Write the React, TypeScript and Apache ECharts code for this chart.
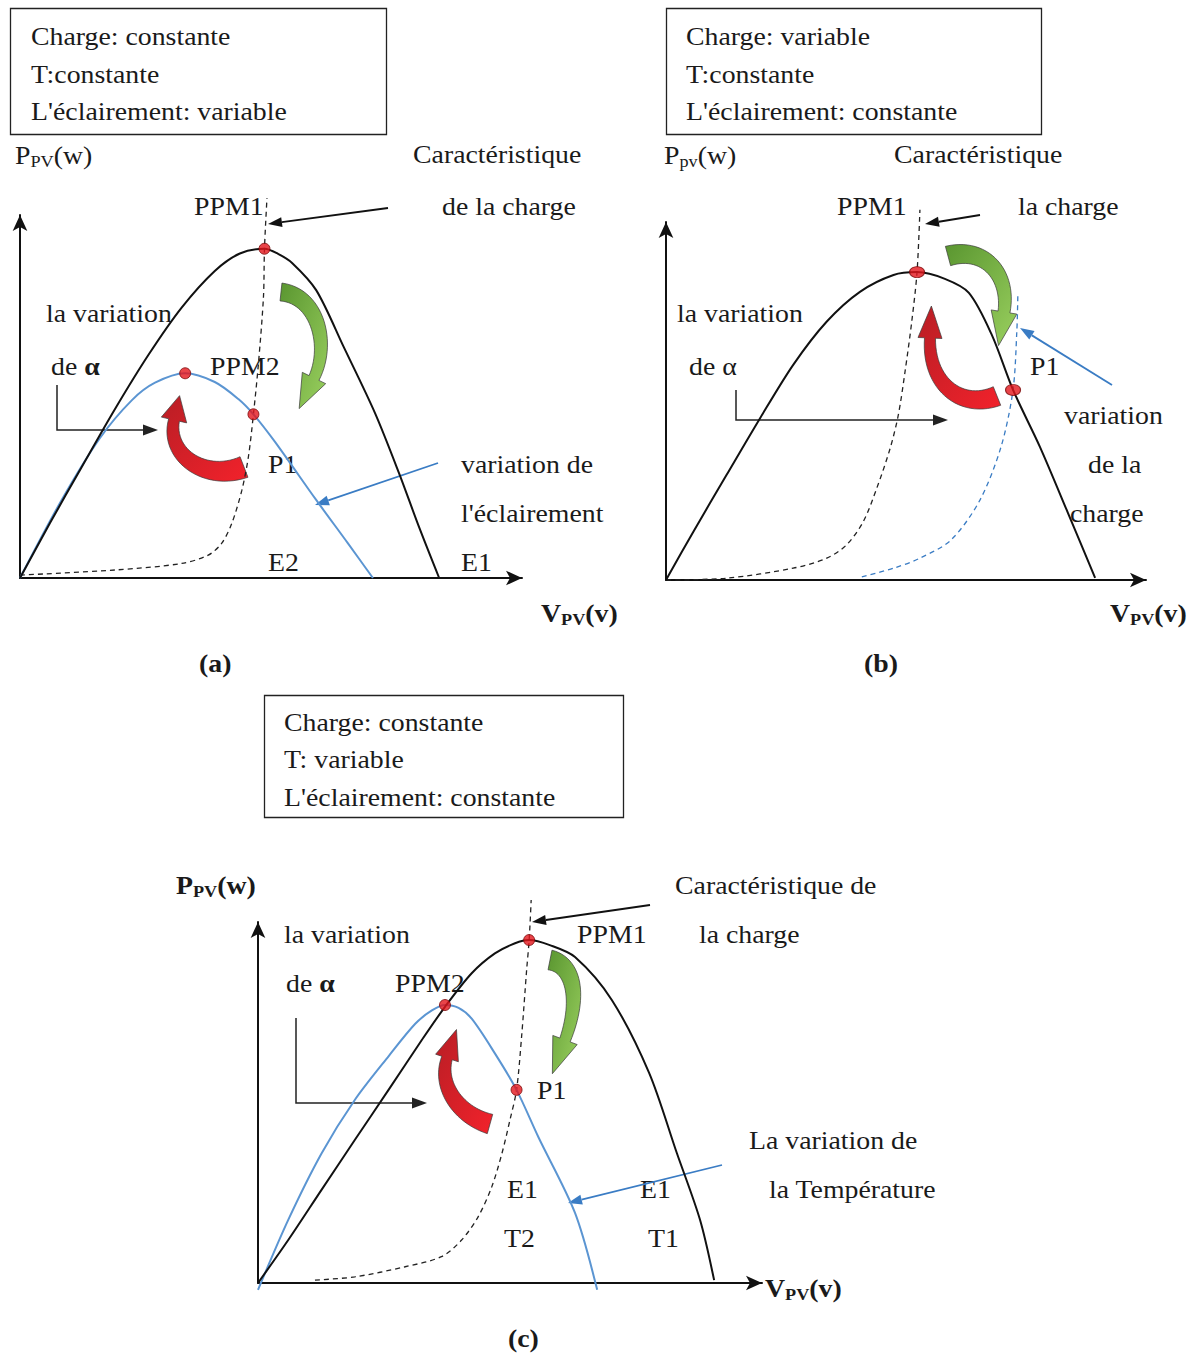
import React, { useEffect, useRef } from "react";
import * as echarts from "echarts";

// ---------- Panel (a): irradiance varies (normalised units 0..100) ----------
const aCurveE1: number[][] = [
  [0, 0], [6.0, 15.2], [12.3, 30.6], [18.9, 46.5], [25.6, 61.5], [32.2, 74.5],
  [38.8, 84.6], [43.8, 89.4], [48.7, 90.7], [51.4, 89.3], [54.2, 86.8],
  [59.0, 79.3], [64.5, 63.6], [70.7, 45.5], [75.5, 28.9], [79.5, 14.0], [83.5, 0],
];
const aCurveE2: number[][] = [
  [0, 0], [8.3, 21.5], [15.9, 38.5], [22.3, 49.0], [26.9, 53.8], [32.9, 56.4],
  [38.8, 54.0], [43.5, 49.3], [46.5, 45.1], [50.8, 37.5], [59.0, 21.5],
  [65.3, 9.6], [70.3, 0],
];
const aLoad: number[][] = [
  [0, 0.8], [18.9, 2.2], [32.2, 4.0], [37.5, 6.3], [40.2, 9.6], [42.2, 15.1],
  [44.2, 24.2], [45.5, 33.4], [46.5, 45.1], [47.5, 59.1], [48.5, 77.5],
  [48.7, 90.7], [49.2, 104.7],
];
const aPoints: number[][] = [[48.7, 90.7], [32.9, 56.4], [46.5, 45.1]];

// ---------- Panel (b): load varies ----------
const bCurve: number[][] = [
  [0, 0], [5.7, 13.5], [12.6, 29.3], [19.6, 45.2], [26.5, 60.1], [33.5, 72.2],
  [40.4, 80.5], [47.4, 85.2], [52.3, 86.0], [58.1, 84.1], [63.1, 80.2],
  [67.9, 68.4], [72.3, 53.1], [77.9, 37.2], [83.75, 18.7], [89.4, 0.6],
];
const bLoad1: number[][] = [
  [0.1, 0], [12.6, 0.5], [26.5, 3.3], [33.5, 6.1], [37.6, 9.8], [41.1, 16.3],
  [43.9, 25.6], [46.7, 36.8], [48.4, 46.1], [49.8, 58.2], [51.2, 72.2],
  [52.3, 86.0], [52.9, 103.4],
];
const bLoad2: number[][] = [
  [40.8, 0.9], [47.4, 3.3], [52.9, 6.1], [59.4, 11.2], [65.4, 22.3],
  [69.8, 37.2], [72.3, 53.1], [73.1, 69.8], [73.3, 79.6],
];
const bPoints: number[][] = [[52.3, 86.0], [72.3, 53.1]];

// ---------- Panel (c): temperature varies ----------
const cCurveT1: number[][] = [
  [0, 0], [6.0, 11.9], [12.6, 25.8], [19.2, 39.6], [25.9, 53.5], [32.5, 67.3],
  [37.1, 76.5], [42.4, 85.8], [47.0, 91.3], [51.0, 94.1], [53.8, 95.0],
  [57.9, 93.6], [62.9, 90.3], [70.2, 78.4], [77.6, 58.2], [83.1, 36.0],
  [87.7, 17.5], [90.5, 0.8],
];
const cCurveT2: number[][] = [
  [0, -1.9], [6.0, 17.5], [12.6, 35.9], [19.2, 50.7], [25.9, 62.8], [31.2, 71.8],
  [34.5, 75.5], [37.1, 77.0], [39.8, 76.2], [42.4, 73.2], [47.0, 63.6],
  [51.3, 53.5], [55.6, 40.5], [62.9, 19.4], [67.3, -1.9],
];
const cLoad: number[][] = [
  [11.3, 0.8], [19.2, 1.7], [29.2, 4.5], [36.4, 7.3], [40.4, 11.9], [43.7, 18.4],
  [46.4, 26.7], [48.4, 35.9], [50.0, 45.2], [51.3, 53.5], [52.3, 68.2],
  [53.3, 86.7], [53.8, 95.0], [54.2, 106.1],
];
const cPoints: number[][] = [[53.8, 95.0], [37.1, 77.0], [51.3, 53.5]];

const FONT = '"Liberation Serif", "Times New Roman", serif';
const INK = "#1a1a1a";
const BLUE = "#5b95d2";
const ARROW_BLUE = "#3a7cc4";

type Pt = [number, number];

function txt(x: number, y: number, text: string, extra: any = {}) {
  return {
    type: "text",
    x,
    y,
    scaleX: 1.07,
    silent: true,
    style: {
      text,
      fontFamily: FONT,
      fontSize: 26,
      fill: INK,
      align: "left",
      verticalAlign: "middle",
      ...extra,
    },
  };
}

function subLabel(x: number, y: number, main: string, sub: string, tail: string, bold: boolean) {
  return txt(x, y, `${main}{s|${sub}}${tail}`, {
    fontWeight: bold ? "bold" : "normal",
    rich: {
      s: {
        fontFamily: FONT,
        fontSize: 17,
        fontWeight: bold ? "bold" : "normal",
        fill: INK,
        padding: [12, 0, 0, 0],
      },
    },
  });
}

function alphaLabel(x: number, y: number, bold: boolean) {
  return txt(x, y, "de {a|α}", {
    rich: {
      a: { fontFamily: FONT, fontSize: 26, fontWeight: bold ? "bold" : "normal", fill: INK },
    },
  });
}

function box(x: number, y: number, w: number, h: number) {
  return {
    type: "rect",
    silent: true,
    shape: { x, y, width: w, height: h },
    style: { fill: "none", stroke: "#222", lineWidth: 1.3 },
  };
}

function arrowLine(x1: number, y1: number, x2: number, y2: number, color: string, lw = 1.8, len = 14, w = 10) {
  const dx = x2 - x1, dy = y2 - y1;
  const L = Math.hypot(dx, dy);
  const ux = dx / L, uy = dy / L;
  const bx = x2 - ux * len, by = y2 - uy * len;
  const px = -uy, py = ux;
  return [
    { type: "line", silent: true, shape: { x1, y1, x2: bx, y2: by }, style: { stroke: color, lineWidth: lw } },
    {
      type: "polygon",
      silent: true,
      shape: { points: [[x2, y2], [bx + (px * w) / 2, by + (py * w) / 2], [bx - (px * w) / 2, by - (py * w) / 2]] },
      style: { fill: color },
    },
  ];
}

function elbowArrow(x0: number, y0: number, y1: number, x2: number) {
  const len = 15, w = 11;
  return [
    {
      type: "polyline",
      silent: true,
      shape: { points: [[x0, y0], [x0, y1], [x2 - len, y1]] },
      style: { stroke: "#222", lineWidth: 1.5, fill: "none" },
    },
    {
      type: "polygon",
      silent: true,
      shape: { points: [[x2, y1], [x2 - len, y1 - w / 2], [x2 - len, y1 + w / 2]] },
      style: { fill: "#222" },
    },
  ];
}

function blockArrow(p0: Pt, p1: Pt, p2: Pt, p3: Pt, w0: number, w1: number, headW: number, headLen: number, c1: string, c2: string) {
  const n = 28;
  const left: Pt[] = [];
  const right: Pt[] = [];
  let lastT: Pt = [0, 1];
  for (let i = 0; i <= n; i++) {
    const t = i / n, u = 1 - t;
    const x = u * u * u * p0[0] + 3 * u * u * t * p1[0] + 3 * u * t * t * p2[0] + t * t * t * p3[0];
    const y = u * u * u * p0[1] + 3 * u * u * t * p1[1] + 3 * u * t * t * p2[1] + t * t * t * p3[1];
    let dx = 3 * u * u * (p1[0] - p0[0]) + 6 * u * t * (p2[0] - p1[0]) + 3 * t * t * (p3[0] - p2[0]);
    let dy = 3 * u * u * (p1[1] - p0[1]) + 6 * u * t * (p2[1] - p1[1]) + 3 * t * t * (p3[1] - p2[1]);
    const L = Math.hypot(dx, dy) || 1;
    dx /= L; dy /= L;
    lastT = [dx, dy];
    const w = w0 + (w1 - w0) * t;
    left.push([x - (dy * w) / 2, y + (dx * w) / 2]);
    right.push([x + (dy * w) / 2, y - (dx * w) / 2]);
  }
  const [tx, ty] = lastT;
  const tip: Pt = [p3[0] + tx * headLen, p3[1] + ty * headLen];
  const hl: Pt = [p3[0] - (ty * headW) / 2, p3[1] + (tx * headW) / 2];
  const hr: Pt = [p3[0] + (ty * headW) / 2, p3[1] - (tx * headW) / 2];
  const pts = [...left, hl, tip, hr, ...right.reverse()];
  return {
    type: "polygon",
    silent: true,
    shape: { points: pts },
    style: {
      fill: {
        type: "linear",
        x: 0, y: 0, x2: 1, y2: 1,
        colorStops: [{ offset: 0, color: c1 }, { offset: 1, color: c2 }],
      },
      stroke: "#3a3a3a",
      lineWidth: 0.7,
    },
  };
}

const RED1 = "#f2222b", RED2 = "#b81e25";
const GREEN1 = "#5a9630", GREEN2 = "#9ad05f";

function axisPair(gi: number) {
  const axisLine = {
    show: true,
    symbol: ["none", "arrow"],
    symbolSize: [11, 16],
    lineStyle: { color: "#111", width: 2 },
  };
  const common = {
    gridIndex: gi,
    type: "value",
    min: 0,
    max: 100,
    axisLine,
    axisTick: { show: false },
    axisLabel: { show: false },
    splitLine: { show: false },
  };
  return { x: { ...common }, y: { ...common } };
}

function lineSeries(gi: number, data: number[][], color: string, dashed: boolean, width: number, smooth = 0.3) {
  return {
    type: "line",
    xAxisIndex: gi,
    yAxisIndex: gi,
    data,
    smooth,
    showSymbol: false,
    symbol: "none",
    clip: false,
    silent: true,
    lineStyle: { color, width, type: dashed ? [5, 4] : "solid" },
  };
}

function pointSeries(gi: number, data: number[][], size: any) {
  return {
    type: "scatter",
    xAxisIndex: gi,
    yAxisIndex: gi,
    data,
    symbol: "circle",
    symbolSize: size,
    clip: false,
    silent: true,
    z: 5,
    itemStyle: { color: "#e4151c", borderColor: "#7a0a0a", borderWidth: 1 },
  };
}

export default function App() {
  const ref = useRef<HTMLDivElement>(null);
  useEffect(() => {
    if (!ref.current) return;
    const chart = echarts.init(ref.current, null, { renderer: "svg" });
    const a = axisPair(0), b = axisPair(1), c = axisPair(2);

    const graphics: any[] = [
      // ----- Panel (a) -----
      box(10.5, 8.5, 376, 126),
      txt(31, 36, "Charge: constante"),
      txt(31, 74, "T:constante"),
      txt(31, 111, "L'éclairement: variable"),
      subLabel(15, 155, "P", "PV", "(w)", false),
      txt(413, 154, "Caractéristique"),
      txt(442, 206, "de la charge"),
      txt(194, 206, "PPM1"),
      txt(46, 313, "la variation"),
      alphaLabel(51, 366, true),
      txt(210, 366, "PPM2"),
      txt(268, 464, "P1"),
      txt(461, 464, "variation de"),
      txt(461, 513, "l'éclairement"),
      txt(268, 562, "E2"),
      txt(461, 562, "E1"),
      subLabel(541, 613, "V", "PV", "(v)", true),
      txt(199, 663, "(a)", { fontWeight: "bold" }),
      ...arrowLine(388, 208, 268, 224, "#111"),
      ...elbowArrow(57, 385, 430, 158),
      ...arrowLine(438, 463, 315, 505, ARROW_BLUE),
      blockArrow([244, 467], [205, 482], [166, 455], [174, 420], 22, 11, 26, 25, RED2, RED1),
      blockArrow([281, 292], [318, 296], [330, 345], [314, 378], 18, 11, 26, 34, GREEN1, GREEN2),

      // ----- Panel (b) -----
      box(666.5, 8.5, 375, 126),
      txt(686, 36, "Charge: variable"),
      txt(686, 74, "T:constante"),
      txt(686, 111, "L'éclairement: constante"),
      subLabel(664, 155, "P", "pv", "(w)", false),
      txt(894, 154, "Caractéristique"),
      txt(837, 206, "PPM1"),
      txt(1018, 206, "la charge"),
      txt(677, 313, "la variation"),
      alphaLabel(689, 366, false),
      txt(1030, 366, "P1"),
      txt(1064, 415, "variation"),
      txt(1088, 464, "de la"),
      txt(1070, 513, "charge"),
      subLabel(1110, 613, "V", "PV", "(v)", true),
      txt(864, 663, "(b)", { fontWeight: "bold" }),
      ...arrowLine(980, 215, 925, 224, "#111"),
      ...elbowArrow(736, 390, 420, 948),
      ...arrowLine(1112, 385, 1020, 328, ARROW_BLUE),
      blockArrow([997, 396], [962, 410], [928, 385], [930, 338], 20, 11, 24, 32, RED2, RED1),
      blockArrow([948, 256], [985, 246], [1010, 275], [1004, 312], 20, 12, 26, 34, GREEN1, GREEN2),

      // ----- Panel (c) -----
      box(264.5, 695.5, 359, 122),
      txt(284, 722, "Charge: constante"),
      txt(284, 759, "T: variable"),
      txt(284, 797, "L'éclairement: constante"),
      subLabel(176, 885, "P", "PV", "(w)", true),
      txt(675, 885, "Caractéristique de"),
      txt(284, 934, "la variation"),
      txt(577, 934, "PPM1"),
      txt(699, 934, "la charge"),
      alphaLabel(286, 983, true),
      txt(395, 983, "PPM2"),
      txt(537, 1090, "P1"),
      txt(749, 1140, "La variation de"),
      txt(507, 1189, "E1"),
      txt(640, 1189, "E1"),
      txt(769, 1189, "la Température"),
      txt(504, 1238, "T2"),
      txt(648, 1238, "T1"),
      subLabel(765, 1288, "V", "PV", "(v)", true),
      txt(508, 1338, "(c)", { fontWeight: "bold" }),
      ...arrowLine(650, 905, 532, 922, "#111"),
      ...elbowArrow(296, 1018, 1103, 427),
      ...arrowLine(722, 1165, 568, 1203, ARROW_BLUE),
      blockArrow([490, 1124], [458, 1115], [438, 1085], [447, 1058], 20, 11, 24, 30, RED2, RED1),
      blockArrow([550, 960], [575, 965], [580, 1000], [565, 1040], 20, 11, 26, 36, GREEN1, GREEN2),
    ];

    chart.setOption({
      animation: false,
      backgroundColor: "#ffffff",
      grid: [
        { left: 20, top: 215, width: 502, height: 363 },
        { left: 666, top: 222, width: 480, height: 358 },
        { left: 258, top: 922, width: 504, height: 361 },
      ],
      xAxis: [a.x, b.x, c.x],
      yAxis: [a.y, b.y, c.y],
      series: [
        lineSeries(0, aLoad, "#222", true, 1.3),
        lineSeries(0, aCurveE2, BLUE, false, 2),
        lineSeries(0, aCurveE1, "#111", false, 2),
        pointSeries(0, aPoints, 11),

        lineSeries(1, bLoad1, "#222", true, 1.3),
        lineSeries(1, bLoad2, "#3a7cc4", true, 1.3),
        lineSeries(1, bCurve, "#111", false, 2),
        pointSeries(1, bPoints, [15, 11]),

        lineSeries(2, cLoad, "#222", true, 1.3),
        lineSeries(2, cCurveT2, BLUE, false, 2),
        lineSeries(2, cCurveT1, "#111", false, 2),
        pointSeries(2, cPoints, 11),
      ],
      graphic: graphics,
    });
    return () => chart.dispose();
  }, []);
  return (
    <div
      ref={ref}
      style={{ position: "absolute", left: 0, top: 0, width: 1200, height: 1353, background: "#fff" }}
    />
  );
}
